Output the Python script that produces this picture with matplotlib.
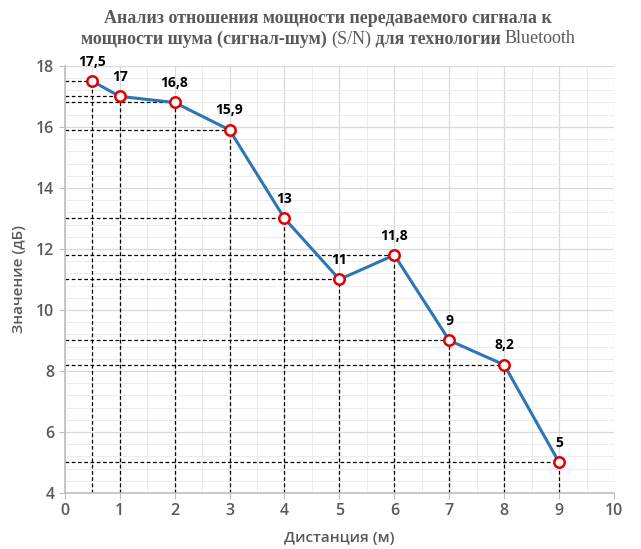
import numpy as np
import matplotlib.pyplot as plt
from matplotlib.ticker import MultipleLocator

# Отношение сигнал-шум Bluetooth в зависимости от дистанции
distance = [0.5, 1, 2, 3, 4, 5, 6, 7, 8, 9]
snr = [17.5, 17, 16.8, 15.9, 13, 11, 11.8, 9, 8.2, 5]
labels = ['17,5', '17', '16,8', '15,9', '13', '11', '11,8', '9', '8,2', '5']

grey = '#595959'
plt.rcParams['font.family'] = ['Open Sans', 'DejaVu Sans']

fig = plt.figure(figsize=(6.41, 5.49), dpi=100)
ax = fig.add_axes([0.101, 0.102, 0.857, 0.778])

ax.set_xlim(0, 10)
ax.set_ylim(4, 18)
ax.xaxis.set_major_locator(MultipleLocator(1))
ax.yaxis.set_major_locator(MultipleLocator(2))
ax.xaxis.set_minor_locator(MultipleLocator(0.5))
ax.yaxis.set_minor_locator(MultipleLocator(0.4))
ax.grid(which='major', color='#d9d9d9', lw=0.9)
ax.grid(which='minor', color='#ececec', lw=0.7)
ax.set_axisbelow(True)

for s in ['top', 'right']:
    ax.spines[s].set_visible(False)
for s in ['left', 'bottom']:
    ax.spines[s].set_color('#bfbfbf')
    ax.spines[s].set_linewidth(1.2)
ax.tick_params(which='major', colors='#bfbfbf', length=4, labelcolor=grey,
               labelsize=11.5)
ax.tick_params(which='minor', length=0)
for t in ax.get_xticklabels() + ax.get_yticklabels():
    t.set_fontweight('semibold')

# пунктирные проекции на оси
for x, y in zip(distance, snr):
    ax.plot([0, x], [y, y], ls='--', color='black', lw=0.9, dashes=(3, 2), zorder=2)
    ax.plot([x, x], [4, y], ls='--', color='black', lw=0.9, dashes=(3, 2), zorder=2)

ax.plot(distance, snr, color='#2e75b6', lw=2.2, marker='o', ms=7.5,
        mfc='white', mec='#e00000', mew=1.8, zorder=3)

for x, y, s in zip(distance, snr, labels):
    ax.annotate(s, (x, y), xytext=(0, 9), textcoords='offset points',
                ha='center', va='bottom', fontsize=10, fontweight='bold',
                color='black')

ax.set_xlabel('Дистанция (м)', fontsize=11, fontweight='semibold', color=grey,
              labelpad=8)
ax.set_ylabel('Значение (дБ)', fontsize=11, fontweight='semibold', color=grey,
              labelpad=7)

# заголовок: Times, местами обычным начертанием
tfont = dict(family='Liberation Serif', fontsize=13, color=grey)
cx = 0.512
fig.text(cx, 0.967, 'Анализ отношения мощности передаваемого сигнала к',
         ha='center', va='center', fontweight='bold', **tfont)

parts = [('мощности шума (сигнал-шум) ', 'bold'), ('(S/N)', 'normal'),
         (' для технологии ', 'bold'), ('Bluetooth', 'normal')]
renderer = fig.canvas.get_renderer()
texts = []
for s, w in parts:
    texts.append(fig.text(0, 0.929, s, ha='left', va='center', fontweight=w, **tfont))
widths = [t.get_window_extent(renderer).width for t in texts]
total = sum(widths)
x0 = cx * fig.bbox.width - total / 2
for t, w in zip(texts, widths):
    t.set_x(x0 / fig.bbox.width)
    x0 += w

fig.savefig('out.png', dpi=100)
